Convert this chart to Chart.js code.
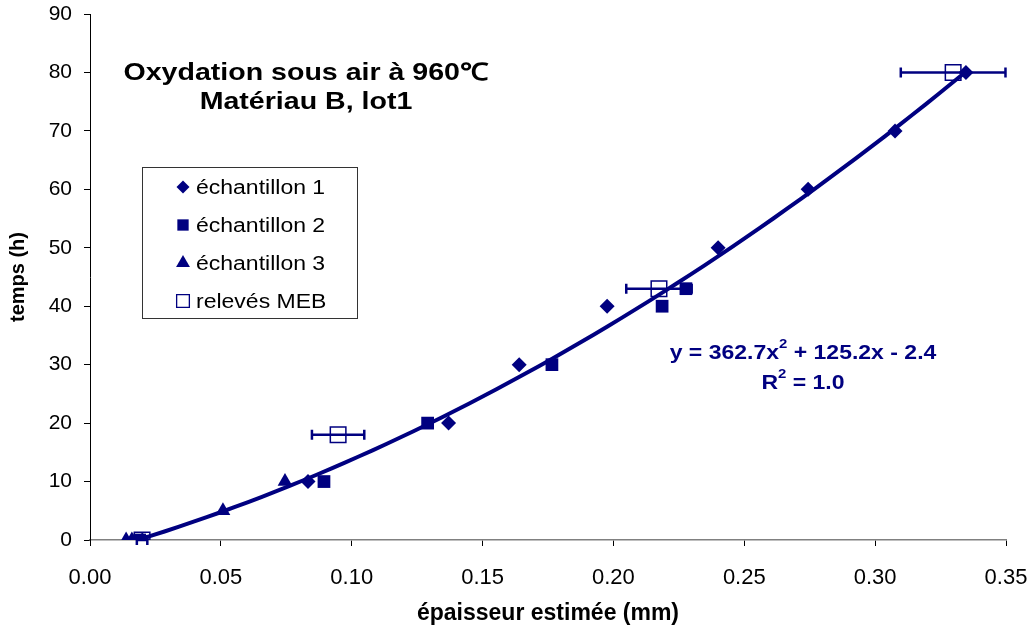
<!DOCTYPE html>
<html>
<head>
<meta charset="utf-8">
<script src="https://cdn.jsdelivr.net/npm/chart.js@4"></script>
<style>
  body { margin: 0; background: #fff; }
  #wrap { width: 1032px; height: 628px; }
</style>
</head>
<body>
<div id="wrap"><canvas id="oxChart" width="1032" height="628"></canvas></div>
<script>
// data
const ech1X = [0.020, 0.0833, 0.137, 0.164, 0.1976, 0.240, 0.2744, 0.3076, 0.3347];
const ech1Y = [0, 10, 20, 30, 40, 50, 60, 70, 80];
const ech2X = [0.019, 0.0894, 0.129, 0.1765, 0.2186, 0.2277];
const ech2Y = [0, 10, 20, 30, 40, 43];
const ech3X = [0.0138, 0.0160, 0.0508, 0.0745];
const ech3Y = [0, 0, 5, 10];
const mebX = [0.0199, 0.0948, 0.2174, 0.3298];
const mebY = [0, 18, 43, 80];
const mebErr = [0.002, 0.010, 0.0125, 0.020];

// trend line coefficients as printed on the chart
const fitA = 362.7, fitB = 125.2, fitC = -2.4;
const fitFrom = 0.0182, fitTo = 0.335;

const xTicks = [0, 0.05, 0.10, 0.15, 0.20, 0.25, 0.30, 0.35];
const yTicks = [0, 10, 20, 30, 40, 50, 60, 70, 80, 90];

const navy = '#000080';
const font = "'Liberation Sans', Arial, sans-serif";

function pts(xs, ys) {
  return xs.map((x, i) => ({ x: x, y: ys[i] }));
}

const fitPts = [];
for (let i = 0; i <= 60; i++) {
  const x = fitFrom + (fitTo - fitFrom) * i / 60;
  fitPts.push({ x: x, y: fitA * x * x + fitB * x + fitC });
}

// text slightly wider than the font, like the reference
function wideText(ctx, txt, x, y, sx) {
  ctx.save();
  ctx.translate(x, y);
  ctx.scale(sx, 1);
  ctx.fillText(txt, 0, 0);
  ctx.restore();
}

const extras = {
  id: 'extras',
  afterDatasetsDraw(chart) {
    const ctx = chart.ctx;
    const xs = chart.scales.x, ys = chart.scales.y;
    ctx.save();
    // error bars on SEM points
    ctx.strokeStyle = navy;
    ctx.lineWidth = 2.5;
    mebX.forEach((x, i) => {
      const py = ys.getPixelForValue(mebY[i]);
      const l = xs.getPixelForValue(x - mebErr[i]);
      const r = xs.getPixelForValue(x + mebErr[i]);
      ctx.beginPath();
      ctx.moveTo(l, py); ctx.lineTo(r, py);
      ctx.moveTo(l, py - 5); ctx.lineTo(l, py + 5);
      ctx.moveTo(r, py - 5); ctx.lineTo(r, py + 5);
      ctx.stroke();
    });

    // title inside plot
    ctx.fillStyle = '#000';
    ctx.textAlign = 'center';
    ctx.textBaseline = 'middle';
    ctx.font = 'bold 24px ' + font;
    wideText(ctx, 'Oxydation sous air à 960℃', 306, 73, 1.19);
    wideText(ctx, 'Matériau B, lot1', 306, 102, 1.19);

    // equation
    ctx.fillStyle = navy;
    ctx.textAlign = 'left';
    const big = 'bold 20px ' + font, small = 'bold 13px ' + font, st = 1.15;
    ctx.font = big;
    const eq1 = 'y = 362.7x', eq2 = ' + 125.2x - 2.4';
    const w1 = ctx.measureText(eq1).width * st;
    const w2 = ctx.measureText(eq2).width * st;
    ctx.font = small;
    const ws = ctx.measureText('2').width * st;
    let sx = 803 - (w1 + ws + w2) / 2;
    ctx.font = big;
    wideText(ctx, eq1, sx, 353, st);
    wideText(ctx, eq2, sx + w1 + ws, 353, st);
    ctx.font = small;
    wideText(ctx, '2', sx + w1, 344, st);
    ctx.font = big;
    const r1 = 'R', r2 = ' = 1.0';
    const rw1 = ctx.measureText(r1).width * st, rw2 = ctx.measureText(r2).width * st;
    sx = 803 - (rw1 + ws + rw2) / 2;
    wideText(ctx, r1, sx, 383, st);
    wideText(ctx, r2, sx + rw1 + ws, 383, st);
    ctx.font = small;
    wideText(ctx, '2', sx + rw1, 374, st);

    // legend box
    ctx.strokeStyle = '#333';
    ctx.lineWidth = 1;
    ctx.fillStyle = '#fff';
    ctx.fillRect(142.5, 167.5, 215, 151);
    ctx.strokeRect(142.5, 167.5, 215, 151);
    const entries = [
      { t: 'échantillon 1', s: 'rectRot', r: 6.5, fill: true },
      { t: 'échantillon 2', s: 'rect', r: 8, fill: true },
      { t: 'échantillon 3', s: 'triangle', r: 8, fill: true },
      { t: 'relevés MEB', s: 'rect', r: 9, fill: false }
    ];
    ctx.font = '20px ' + font;
    entries.forEach((e, i) => {
      const cy = 187 + i * 38;
      ctx.fillStyle = e.fill ? navy : 'rgba(0,0,0,0)';
      ctx.strokeStyle = navy;
      ctx.lineWidth = e.fill ? 0 : 1.3;
      Chart.helpers.drawPoint(ctx, { pointStyle: e.s, radius: e.r, borderWidth: e.fill ? 0 : 1.3 }, 183, cy);
      ctx.fillStyle = '#000';
      wideText(ctx, e.t, 196, cy + 1, 1.15);
    });
    ctx.restore();
  }
};

new Chart(document.getElementById('oxChart').getContext('2d'), {
  type: 'scatter',
  data: {
    datasets: [
      {
        label: 'échantillon 1',
        data: pts(ech1X, ech1Y),
        pointStyle: 'rectRot',
        pointRadius: 7.5,
        backgroundColor: navy,
        borderWidth: 0
      },
      {
        label: 'échantillon 2',
        data: pts(ech2X, ech2Y),
        pointStyle: 'rect',
        pointRadius: 9,
        backgroundColor: navy,
        borderWidth: 0
      },
      {
        label: 'échantillon 3',
        data: pts(ech3X, ech3Y),
        pointStyle: 'triangle',
        pointRadius: 8.5,
        backgroundColor: navy,
        borderWidth: 0
      },
      {
        label: 'relevés MEB',
        data: pts(mebX, mebY),
        pointStyle: 'rect',
        pointRadius: 11,
        backgroundColor: 'rgba(0,0,0,0)',
        borderColor: navy,
        borderWidth: 1.5
      },
      {
        label: 'fit',
        type: 'line',
        data: fitPts,
        borderColor: navy,
        borderWidth: 4,
        pointRadius: 0,
        fill: false,
        tension: 0
      }
    ]
  },
  options: {
    responsive: false,
    animation: false,
    layout: { padding: { top: 14, right: 26, left: 0, bottom: 0 } },
    plugins: {
      legend: { display: false },
      tooltip: { enabled: false }
    },
    scales: {
      x: {
        type: 'linear',
        min: 0,
        max: 0.35,
        afterFit(scale) {
          scale.height = 88;
          scale.paddingLeft = 0;
          scale.paddingRight = 0;
        },
        afterBuildTicks(scale) { scale.ticks = xTicks.map(v => ({ value: v })); },
        grid: { drawOnChartArea: false, drawTicks: true, tickLength: 6, color: '#000' },
        border: { color: '#808080', width: 1.5 },
        ticks: {
          color: '#000',
          font: { family: font, size: 22 },
          padding: 19,
          maxRotation: 0,
          callback: v => v.toFixed(2)
        },
        title: {
          display: true,
          text: 'épaisseur estimée (mm)',
          color: '#000',
          font: { family: font, size: 23, weight: 'bold' },
          padding: { top: 0, bottom: 1 }
        }
      },
      y: {
        min: 0,
        max: 90,
        afterFit(scale) {
          scale.width = 90;
          scale.paddingTop = 0;
          scale.paddingBottom = 0;
        },
        afterBuildTicks(scale) { scale.ticks = yTicks.map(v => ({ value: v })); },
        grid: { drawOnChartArea: false, drawTicks: true, tickLength: 6, color: '#000' },
        border: { color: '#000', width: 1 },
        ticks: {
          color: '#000',
          font: { family: font, size: 21 },
          padding: 12
        },
        title: {
          display: true,
          text: 'temps (h)',
          color: '#000',
          font: { family: font, size: 20, weight: 'bold' },
          padding: { top: 6, bottom: 2 }
        }
      }
    }
  },
  plugins: [extras]
});
</script>
</body>
</html>
